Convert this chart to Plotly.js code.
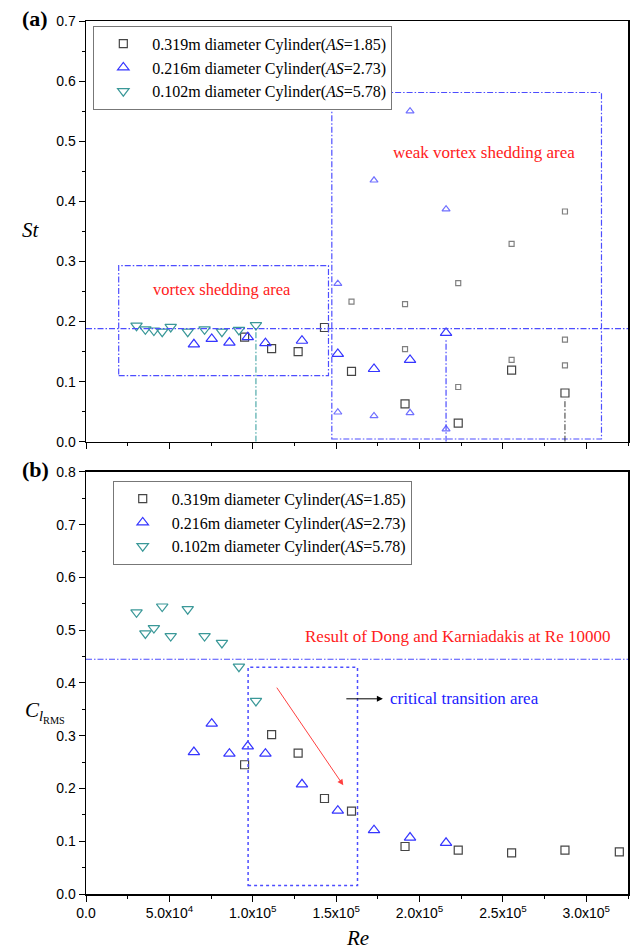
<!DOCTYPE html>
<html>
<head>
<meta charset="utf-8">
<script src="https://cdn.plot.ly/plotly-3.0.1.min.js"></script>
<style>html,body{margin:0;padding:0;background:#fff;}#chart{width:632px;height:950px;}</style>
</head>
<body>
<div id="chart"></div>
<script>
// ---------- data ----------
const seriesNames = [
  "0.319m diameter Cylinder(<i>AS</i>=1.85)",
  "0.216m diameter Cylinder(<i>AS</i>=2.73)",
  "0.102m diameter Cylinder(<i>AS</i>=5.78)"
];
// Reynolds numbers
const re319 = [95100, 111300, 127200, 143000, 159200, 191300, 223200, 255200, 287200, 319800];
const re216 = [64700, 75400, 86000, 97000, 107600, 129500, 151000, 172700, 194300, 215900];
const re102 = [30300, 35600, 40700, 45700, 50800, 61000, 71100, 81500, 91700, 101900];
// (a) Strouhal number, primary peaks
const st319 = [0.174, 0.155, 0.150, 0.190, 0.117, 0.063, 0.031, 0.119, 0.081];
const st216 = [0.162, 0.171, 0.165, 0.174, 0.164, 0.168, 0.146, 0.121, 0.136, 0.181];
const st102 = [0.193, 0.187, 0.185, 0.183, 0.191, 0.183, 0.187, 0.183, 0.186, 0.194];
// (a) secondary peaks
const re319Sec = [159200, 191300, 191300, 223200, 223200, 255200, 255200, 287200, 287200, 287200];
const st319Sec = [0.233, 0.229, 0.154, 0.264, 0.091, 0.329, 0.136, 0.383, 0.170, 0.127];
const re216Sec = [151000, 151000, 172700, 172700, 194300, 194300, 215900, 215900];
const st216Sec = [0.263, 0.049, 0.435, 0.043, 0.550, 0.048, 0.387, 0.021];
// (b) RMS lift coefficient
const cl319 = [0.245, 0.302, 0.267, 0.181, 0.157, 0.090, 0.083, 0.078, 0.083, 0.080];
const cl216 = [0.269, 0.323, 0.266, 0.280, 0.266, 0.208, 0.158, 0.121, 0.107, 0.097];
const cl102 = [0.534, 0.494, 0.504, 0.545, 0.489, 0.540, 0.489, 0.476, 0.431, 0.366];
// reference levels / regions
const stRef = 0.188;
const clDong = 0.445;
const xTickVals = [0, 50000, 100000, 150000, 200000, 250000, 300000];
const xTickText = ["0.0", "5.0x10<sup>4</sup>", "1.0x10<sup>5</sup>", "1.5x10<sup>5</sup>",
                   "2.0x10<sup>5</sup>", "2.5x10<sup>5</sup>", "3.0x10<sup>5</sup>"];
const xMinorVals = [25000, 75000, 125000, 175000, 225000, 275000, 325000];
const vortexArea = {x0: 19600, x1: 145400, y0: 0.110, y1: 0.293};
const weakArea = {x0: 147400, x1: 309100, y0: 0.0045, y1: 0.581};
const critArea = {x0: 97200, x1: 162800, y0: 0.016, y1: 0.430};

// ---------- styles ----------
const cSq = '#454545', cSqL = '#808080';
const cUp = '#3535ff', cUpL = '#7070ff';
const cDn = '#3a9898';
const serif = 'Liberation Serif, Times New Roman, serif';
const sans = 'Liberation Sans, Arial, sans-serif';
const dd = '6px,2px,1.5px,2px';

function mk(sym, color, size) {
  return {symbol: sym, size: size, color: color, line: {color: color, width: 1.2}};
}

const traces = [
  // (a)
  {x: re319.slice(0, st319.length), y: st319, xaxis: 'x', yaxis: 'y', mode: 'markers', type: 'scatter',
   name: seriesNames[0], marker: mk('square-open', cSq, 8), legend: 'legend'},
  {x: re216, y: st216, xaxis: 'x', yaxis: 'y', mode: 'markers', type: 'scatter',
   name: seriesNames[1], marker: mk('triangle-up-open', cUp, 10), legend: 'legend'},
  {x: re102, y: st102, xaxis: 'x', yaxis: 'y', mode: 'markers', type: 'scatter',
   name: seriesNames[2], marker: mk('triangle-down-open', cDn, 10), legend: 'legend'},
  {x: re319Sec, y: st319Sec, xaxis: 'x', yaxis: 'y', mode: 'markers', type: 'scatter',
   showlegend: false, marker: mk('square-open', cSqL, 5)},
  {x: re216Sec, y: st216Sec, xaxis: 'x', yaxis: 'y', mode: 'markers', type: 'scatter',
   showlegend: false, marker: mk('triangle-up-open', cUpL, 7)},
  // (b)
  {x: re319, y: cl319, xaxis: 'x2', yaxis: 'y2', mode: 'markers', type: 'scatter',
   name: seriesNames[0], marker: mk('square-open', cSq, 8), legend: 'legend2'},
  {x: re216, y: cl216, xaxis: 'x2', yaxis: 'y2', mode: 'markers', type: 'scatter',
   name: seriesNames[1], marker: mk('triangle-up-open', cUp, 10), legend: 'legend2'},
  {x: re102, y: cl102, xaxis: 'x2', yaxis: 'y2', mode: 'markers', type: 'scatter',
   name: seriesNames[2], marker: mk('triangle-down-open', cDn, 10), legend: 'legend2'}
];

const baseX = {
  range: [0, 325000], showgrid: false, zeroline: false, showline: true, mirror: true,
  linecolor: '#000', linewidth: 1.5, ticks: 'outside', ticklen: 6, tickwidth: 1, tickcolor: '#000',
  tickmode: 'array', tickvals: xTickVals, ticktext: xTickText,
  minor: {tickmode: 'array', tickvals: xMinorVals, ticks: 'outside', ticklen: 3, tickcolor: '#000'},
  tickfont: {family: sans, size: 14, color: '#000'}
};
function baseY(max) {
  return {
    range: [0, max], showgrid: false, zeroline: false, showline: true, mirror: true,
    linecolor: '#000', linewidth: 1.5, ticks: 'outside', ticklen: 6, tickwidth: 1, tickcolor: '#000',
    tickmode: 'linear', tick0: 0, dtick: 0.1, tickformat: '.1f',
    minor: {dtick: 0.05, ticks: 'outside', ticklen: 3, tickcolor: '#000'},
    tickfont: {family: sans, size: 14, color: '#000'}
  };
}

const blue = '#4d4dff';
const shapes = [
  // (a)
  {type: 'line', xref: 'x domain', yref: 'y', x0: 0, x1: 1, y0: stRef, y1: stRef,
   line: {color: blue, width: 1.2, dash: dd}},
  {type: 'rect', xref: 'x', yref: 'y', x0: vortexArea.x0, x1: vortexArea.x1, y0: vortexArea.y0, y1: vortexArea.y1,
   line: {color: blue, width: 1.2, dash: dd}},
  {type: 'rect', xref: 'x', yref: 'y', x0: weakArea.x0, x1: weakArea.x1, y0: weakArea.y0, y1: weakArea.y1,
   line: {color: blue, width: 1.2, dash: dd}},
  {type: 'line', xref: 'x', yref: 'y', x0: re102[9], x1: re102[9], y0: 0, y1: st102[9] - 0.008,
   line: {color: '#2e9a9a', width: 1, dash: dd}},
  {type: 'line', xref: 'x', yref: 'y', x0: re216[9], x1: re216[9], y0: 0, y1: st216[9] - 0.012,
   line: {color: blue, width: 1.2, dash: dd}},
  {type: 'line', xref: 'x', yref: 'y', x0: re319[8], x1: re319[8], y0: 0, y1: st319[8] - 0.01,
   line: {color: '#333', width: 1, dash: dd}},
  // (b)
  {type: 'line', xref: 'x2 domain', yref: 'y2', x0: 0, x1: 1, y0: clDong, y1: clDong,
   line: {color: blue, width: 1.2, dash: dd}},
  {type: 'rect', xref: 'x2', yref: 'y2', x0: critArea.x0, x1: critArea.x1, y0: critArea.y0, y1: critArea.y1,
   line: {color: blue, width: 1.5, dash: 'dot'}}
];

function paperText(x, y, text, size) {
  return {xref: 'paper', yref: 'paper', x: x, y: y, text: text, showarrow: false,
          xanchor: 'center', yanchor: 'middle', font: {family: serif, size: size, color: '#000'}};
}

const annotations = [
  paperText(-0.094, 1.0034, '<b>(a)</b>', 22),
  paperText(-0.094, 0.4857, '<b>(b)</b>', 22),
  paperText(-0.1015, 0.7606, '<i>St</i>', 21),
  paperText(-0.075, 0.2085, '<i>C</i><sub><i>l</i><sub>RMS</sub></sub>', 21),
  paperText(0.5, -0.050, '<i>Re</i>', 21),
  {xref: 'x', yref: 'y', x: 81600, y: 0.254, text: 'vortex shedding area', showarrow: false,
   font: {family: serif, size: 16.5, color: '#ff2020'}},
  {xref: 'x', yref: 'y', x: 238900, y: 0.482, text: 'weak vortex shedding area', showarrow: false,
   font: {family: serif, size: 17, color: '#ff2020'}},
  {xref: 'x2', yref: 'y2', x: 222800, y: 0.489, text: 'Result of Dong and Karniadakis at Re 10000', showarrow: false,
   font: {family: serif, size: 17, color: '#ff2020'}},
  {xref: 'x2', yref: 'y2', x: 181000, y: 0.37, xanchor: 'left', text: 'critical transition area', showarrow: false,
   font: {family: serif, size: 17, color: '#2020ff'}},
  {xref: 'x2', yref: 'y2', axref: 'x2', ayref: 'y2', x: 154300, y: 0.206, ax: 113800, ay: 0.394,
   text: '', showarrow: true, arrowhead: 2, arrowsize: 1.2, arrowwidth: 1, arrowcolor: '#ff4040'},
  {xref: 'x2', yref: 'y2', axref: 'x2', ayref: 'y2', x: 178000, y: 0.37, ax: 155200, ay: 0.37,
   text: '', showarrow: true, arrowhead: 2, arrowsize: 1.2, arrowwidth: 1, arrowcolor: '#000'}
];

const legendStyle = {
  bgcolor: 'rgba(255,255,255,1)', bordercolor: '#777', borderwidth: 1,
  font: {family: serif, size: 16, color: '#000'}, itemwidth: 48, xanchor: 'left', yanchor: 'top',
  tracegroupgap: 0
};

const layout = {
  width: 632, height: 950,
  margin: {l: 86, r: 4, t: 21, b: 56},
  paper_bgcolor: '#fff', plot_bgcolor: '#fff',
  showlegend: true,
  xaxis: Object.assign({}, baseX, {domain: [0, 1], anchor: 'y', showticklabels: false}),
  yaxis: Object.assign(baseY(0.7), {domain: [0.5181, 1], anchor: 'x'}),
  xaxis2: Object.assign({}, baseX, {domain: [0, 1], anchor: 'y2'}),
  yaxis2: Object.assign(baseY(0.8), {domain: [0, 0.4834], anchor: 'x2'}),
  legend: Object.assign({}, legendStyle, {x: 0.0135, y: 0.9946}),
  legend2: Object.assign({}, legendStyle, {x: 0.0493, y: 0.4734}),
  shapes: shapes,
  annotations: annotations
};

Plotly.newPlot('chart', traces, layout, {displayModeBar: false, staticPlot: true});
</script>
</body>
</html>
